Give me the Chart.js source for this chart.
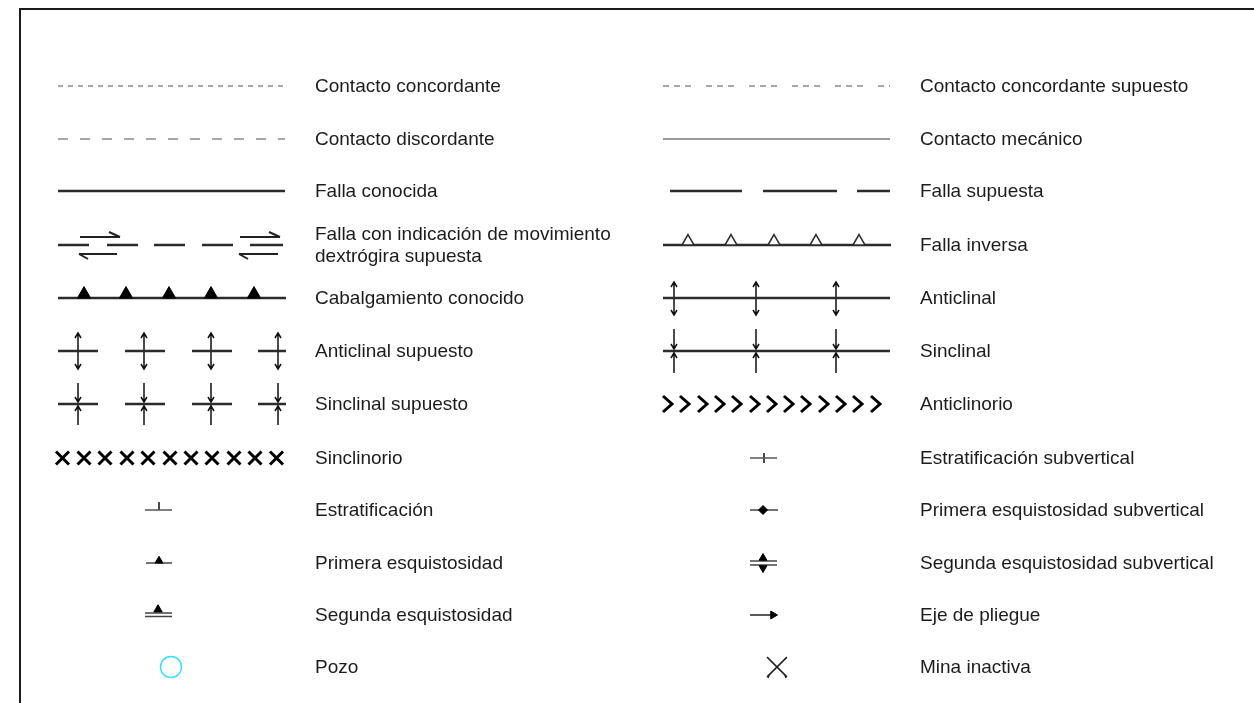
<!DOCTYPE html>
<html>
<head>
<meta charset="utf-8">
<script src="https://cdn.jsdelivr.net/npm/chart.js@4/dist/chart.umd.min.js"></script>
<style>
  html, body { margin: 0; padding: 0; background: #fff; }
  #legendChart { display: block; }
</style>
</head>
<body>
<canvas id="legendChart" width="1254" height="703"></canvas>
<script>
// legend rows (centre of each symbol, in sheet units top -> bottom)
var rowY = [86, 139, 191, 245, 298, 351, 404, 458, 510, 563, 615, 667];
var leftTextX = 315, rightTextX = 920;

var leftLabels = [
    'Contacto concordante',
    'Contacto discordante',
    'Falla conocida',
    ['Falla con indicación de movimiento', 'dextrógira supuesta'],
    'Cabalgamiento conocido',
    'Anticlinal supuesto',
    'Sinclinal supuesto',
    'Sinclinorio',
    'Estratificación',
    'Primera esquistosidad',
    'Segunda esquistosidad',
    'Pozo'
];
var rightLabels = [
    'Contacto concordante supuesto',
    'Contacto mecánico',
    'Falla supuesta',
    'Falla inversa',
    'Anticlinal',
    'Sinclinal',
    'Anticlinorio',
    'Estratificación subvertical',
    'Primera esquistosidad subvertical',
    'Segunda esquistosidad subvertical',
    'Eje de pliegue',
    'Mina inactiva'
];

// symbol geometry
var longLine = [58, 285];
var longLineR = [663, 890];
var fallaSupuestaSegs = [[670, 742], [763, 837], [857, 890]];
var dextroSegs = [[58, 89], [107, 138], [154, 185], [202, 233], [250, 283]];
var dextroUpper = [[80, 120], [240, 280]];
var dextroLower = [[79, 117], [239, 278]];
var thrustTeeth = [84, 126, 169, 211, 254];
var inversaTeeth = [688, 731, 774, 816, 859];
var foldAxesR = [674, 756, 836];
var foldSegsL = [[58, 98], [125, 165], [192, 232], [258, 286]];
var foldAxesL = [78, 144, 211, 278];
var chevronX = [663, 680, 698, 715, 732, 750, 767, 784, 801, 819, 836, 853, 871];
var crossX = [62.5, 84, 105, 127, 148, 170, 191, 212, 234, 255, 276.5];
var frame = [[20, 703], [20, 9], [1254, 9]];

var DARK = '#2b2b2b';
var GREY = '#8c8c8c';

function polylines(list, color, width, dash) {
    var pts = [];
    list.forEach(function (line) {
        line.forEach(function (p) {
            pts.push({x: p[0], y: p[1]});
        });
        pts.push({x: null, y: null});
    });
    return {
        data: pts,
        showLine: true,
        spanGaps: false,
        borderColor: color,
        borderWidth: width,
        borderDash: dash || [],
        borderCapStyle: 'butt',
        pointRadius: 0,
        order: 1
    };
}

function markers(xs, y, style, r, fillCol, edgeCol, edgeW, rot) {
    return {
        data: xs.map(function (x) { return {x: x, y: y}; }),
        showLine: false,
        pointStyle: style,
        pointRadius: r,
        pointBackgroundColor: fillCol,
        pointBorderColor: edgeCol,
        pointBorderWidth: edgeW,
        pointRotation: rot || 0,
        order: 0
    };
}

function hSeg(x1, x2, y) { return [[x1, y], [x2, y]]; }

// vertical fold axis with arrow heads; out = true for anticline, false for syncline
function foldAxis(x, y0, top, bottom, out) {
    var lines = [[[x, top], [x, bottom]]];
    if (out) {
        lines.push([[x - 3, top + 5], [x, top], [x + 3, top + 5]]);
        lines.push([[x - 3, bottom - 5], [x, bottom], [x + 3, bottom - 5]]);
    } else {
        lines.push([[x - 3, y0 - 7], [x, y0 - 2], [x + 3, y0 - 7]]);
        lines.push([[x - 3, y0 + 7], [x, y0 + 2], [x + 3, y0 + 7]]);
    }
    return lines;
}

var datasets = [];

// frame
datasets.push(polylines([frame], '#1a1a1a', 2));

// contacts
datasets.push(polylines([hSeg(longLine[0], longLine[1], rowY[0])], GREY, 1.5, [5, 5]));
datasets.push(polylines([hSeg(longLineR[0], longLineR[1], rowY[0])], GREY, 1.5, [6, 5, 6, 5, 6, 15]));
datasets.push(polylines([hSeg(longLine[0], longLine[1], rowY[1])], GREY, 1.5, [10, 12]));
datasets.push(polylines([hSeg(longLineR[0], longLineR[1], rowY[1])], '#999999', 2));

// faults
datasets.push(polylines([hSeg(longLine[0], longLine[1], rowY[2])], DARK, 2.5));
datasets.push(polylines(fallaSupuestaSegs.map(function (s) { return hSeg(s[0], s[1], rowY[2]); }), DARK, 2.5));

var dextro = dextroSegs.map(function (s) { return hSeg(s[0], s[1], rowY[3]); });
datasets.push(polylines(dextro, DARK, 2.5));
var arrows = [];
dextroUpper.forEach(function (s) {
    arrows.push(hSeg(s[0], s[1], rowY[3] - 8));
    arrows.push([[s[1] - 11, rowY[3] - 13], [s[1], rowY[3] - 8]]);
});
dextroLower.forEach(function (s) {
    arrows.push(hSeg(s[0], s[1], rowY[3] + 9));
    arrows.push([[s[0], rowY[3] + 9], [s[0] + 9, rowY[3] + 14]]);
});
datasets.push(polylines(arrows, '#222', 2));

datasets.push(polylines([hSeg(longLineR[0], longLineR[1] + 1, rowY[3])], DARK, 2.5));
datasets.push(markers(inversaTeeth, rowY[3] - 3.5, 'triangle', 7, '#fff', DARK, 1.5));

datasets.push(polylines([hSeg(longLine[0], longLine[1] + 1, rowY[4])], DARK, 2.5));
datasets.push(markers(thrustTeeth, rowY[4] - 3.8, 'triangle', 7.6, '#000', '#000', 1));

// folds
datasets.push(polylines([hSeg(longLineR[0], longLineR[1], rowY[4])], DARK, 2.5));
var anti = [];
foldAxesR.forEach(function (x) { anti = anti.concat(foldAxis(x, rowY[4], rowY[4] - 16, rowY[4] + 17, true)); });
datasets.push(polylines(anti, '#111', 1.5));

datasets.push(polylines(foldSegsL.map(function (s) { return hSeg(s[0], s[1], rowY[5]); }), DARK, 2.5));
var antiSup = [];
foldAxesL.forEach(function (x) { antiSup = antiSup.concat(foldAxis(x, rowY[5], rowY[5] - 18, rowY[5] + 18, true)); });
datasets.push(polylines(antiSup, '#111', 1.5));

datasets.push(polylines([hSeg(longLineR[0], longLineR[1], rowY[5])], DARK, 2.5));
var sin = [];
foldAxesR.forEach(function (x) { sin = sin.concat(foldAxis(x, rowY[5], rowY[5] - 22, rowY[5] + 22, false)); });
datasets.push(polylines(sin, '#111', 1.5));

datasets.push(polylines(foldSegsL.map(function (s) { return hSeg(s[0], s[1], rowY[6]); }), DARK, 2.5));
var sinSup = [];
foldAxesL.forEach(function (x) { sinSup = sinSup.concat(foldAxis(x, rowY[6], rowY[6] - 21, rowY[6] + 21, false)); });
datasets.push(polylines(sinSup, '#111', 1.5));

// anticlinorio / sinclinorio
datasets.push(polylines(chevronX.map(function (x) {
    return [[x, rowY[6] - 8], [x + 9, rowY[6]], [x, rowY[6] + 8]];
}), '#000', 3));
datasets.push(markers(crossX, rowY[7], 'crossRot', 9.2, '#000', '#000', 3));

// bedding and schistosity
datasets.push(polylines([hSeg(750, 777, rowY[7]), hSeg(145, 172, rowY[8])], '#555', 1.5));
datasets.push(polylines([[[764, rowY[7] - 5], [764, rowY[7] + 5]], [[159, rowY[8] - 8], [159, rowY[8]]]], '#111', 1.5));

datasets.push(polylines([hSeg(750, 778, rowY[8])], '#444', 1.5));
datasets.push(markers([763], rowY[8], 'rectRot', 4.5, '#000', '#000', 1));

datasets.push(polylines([hSeg(146, 172, rowY[9])], '#444', 1.5));
datasets.push(markers([159], rowY[9] - 2.2, 'triangle', 4.5, '#000', '#000', 1));

datasets.push(polylines([hSeg(750, 777, rowY[9] - 2), hSeg(750, 777, rowY[9] + 2)], '#444', 1.3));
datasets.push(markers([763], rowY[9] - 5, 'triangle', 4.5, '#000', '#000', 1));
datasets.push(markers([763], rowY[9] + 5, 'triangle', 4.5, '#000', '#000', 1, 180));

datasets.push(polylines([hSeg(145, 172, rowY[10] - 2), hSeg(145, 172, rowY[10] + 1.5)], '#444', 1.3));
datasets.push(markers([158], rowY[10] - 5.5, 'triangle', 4.8, '#000', '#000', 1));

datasets.push(polylines([hSeg(750, 772, rowY[10])], '#222', 1.5));
datasets.push(markers([773], rowY[10], 'triangle', 4.5, '#000', '#000', 1, 90));

// pozo, mina inactiva
datasets.push(markers([171], rowY[11], 'circle', 10.5, 'rgba(0,0,0,0)', '#33e0ff', 1.5));
datasets.push(markers([777], rowY[11], 'crossRot', 14, '#000', '#222', 1.5));
datasets.push(polylines([[[769, rowY[11] + 8], [768, rowY[11] + 11]], [[785, rowY[11] + 8], [786, rowY[11] + 11]]], '#222', 1.5));

var labelPlugin = {
    id: 'legendText',
    afterDatasetsDraw: function (chart) {
        var ctx = chart.ctx;
        var xs = chart.scales.x, ys = chart.scales.y;
        ctx.save();
        ctx.font = '19px "Liberation Sans", Arial, sans-serif';
        ctx.fillStyle = '#1c1c1c';
        ctx.textBaseline = 'middle';
        ctx.textAlign = 'left';
        var put = function (labels, tx) {
            labels.forEach(function (t, i) {
                var lines = [].concat(t);
                lines.forEach(function (line, j) {
                    var y = rowY[i] + 1 + (j - (lines.length - 1) / 2) * 22;
                    ctx.fillText(line, xs.getPixelForValue(tx), ys.getPixelForValue(y));
                });
            });
        };
        put(leftLabels, leftTextX);
        put(rightLabels, rightTextX);
        ctx.restore();
    }
};

var chart = new Chart(document.getElementById('legendChart'), {
    type: 'scatter',
    data: {datasets: datasets},
    options: {
        responsive: false,
        animation: false,
        events: [],
        layout: {padding: 0, autoPadding: false},
        plugins: {
            legend: {display: false},
            tooltip: {enabled: false}
        },
        scales: {
            x: {type: 'linear', min: 0, max: 1254, display: false},
            y: {type: 'linear', min: 0, max: 703, reverse: true, display: false}
        }
    },
    plugins: [labelPlugin]
});
</script>
</body>
</html>
